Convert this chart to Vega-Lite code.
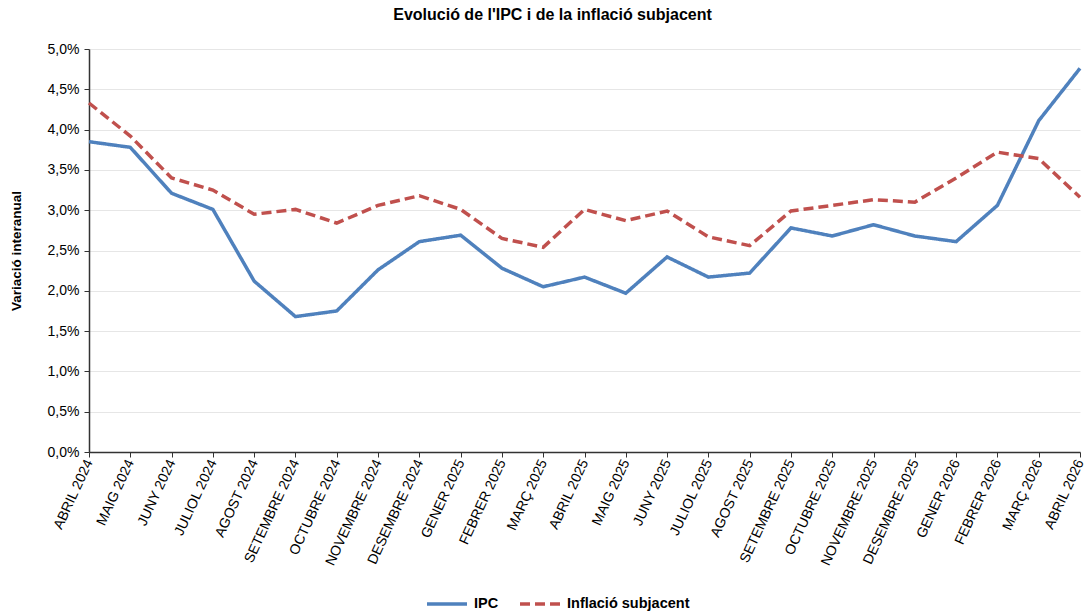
{
  "$schema": "https://vega.github.io/schema/vega-lite/v6.json",
  "autosize": "none",
  "width": 991,
  "height": 403,
  "padding": {"left": 89, "top": 49, "right": 4, "bottom": 160},
  "background": "white",
  "title": {"text": "Evolució de l'IPC i de la inflació subjacent", "font": "Liberation Sans", "fontSize": 16, "fontWeight": "bold", "color": "#000000", "anchor": "middle", "dx": -32, "offset": 19},
  "data": {"values": [
    {"mes": "ABRIL 2024", "serie": "IPC", "valor": 3.85},
    {"mes": "MAIG 2024", "serie": "IPC", "valor": 3.78},
    {"mes": "JUNY 2024", "serie": "IPC", "valor": 3.21},
    {"mes": "JULIOL 2024", "serie": "IPC", "valor": 3.01},
    {"mes": "AGOST 2024", "serie": "IPC", "valor": 2.12},
    {"mes": "SETEMBRE 2024", "serie": "IPC", "valor": 1.68},
    {"mes": "OCTUBRE 2024", "serie": "IPC", "valor": 1.75},
    {"mes": "NOVEMBRE 2024", "serie": "IPC", "valor": 2.26},
    {"mes": "DESEMBRE 2024", "serie": "IPC", "valor": 2.61},
    {"mes": "GENER 2025", "serie": "IPC", "valor": 2.69},
    {"mes": "FEBRER 2025", "serie": "IPC", "valor": 2.28},
    {"mes": "MARÇ 2025", "serie": "IPC", "valor": 2.05},
    {"mes": "ABRIL 2025", "serie": "IPC", "valor": 2.17},
    {"mes": "MAIG 2025", "serie": "IPC", "valor": 1.97},
    {"mes": "JUNY 2025", "serie": "IPC", "valor": 2.42},
    {"mes": "JULIOL 2025", "serie": "IPC", "valor": 2.17},
    {"mes": "AGOST 2025", "serie": "IPC", "valor": 2.22},
    {"mes": "SETEMBRE 2025", "serie": "IPC", "valor": 2.78},
    {"mes": "OCTUBRE 2025", "serie": "IPC", "valor": 2.68},
    {"mes": "NOVEMBRE 2025", "serie": "IPC", "valor": 2.82},
    {"mes": "DESEMBRE 2025", "serie": "IPC", "valor": 2.68},
    {"mes": "GENER 2026", "serie": "IPC", "valor": 2.61},
    {"mes": "FEBRER 2026", "serie": "IPC", "valor": 3.06},
    {"mes": "MARÇ 2026", "serie": "IPC", "valor": 4.11},
    {"mes": "ABRIL 2026", "serie": "IPC", "valor": 4.76},
    {"mes": "ABRIL 2024", "serie": "Inflació subjacent", "valor": 4.33},
    {"mes": "MAIG 2024", "serie": "Inflació subjacent", "valor": 3.92},
    {"mes": "JUNY 2024", "serie": "Inflació subjacent", "valor": 3.40},
    {"mes": "JULIOL 2024", "serie": "Inflació subjacent", "valor": 3.25},
    {"mes": "AGOST 2024", "serie": "Inflació subjacent", "valor": 2.95},
    {"mes": "SETEMBRE 2024", "serie": "Inflació subjacent", "valor": 3.01},
    {"mes": "OCTUBRE 2024", "serie": "Inflació subjacent", "valor": 2.84},
    {"mes": "NOVEMBRE 2024", "serie": "Inflació subjacent", "valor": 3.06},
    {"mes": "DESEMBRE 2024", "serie": "Inflació subjacent", "valor": 3.18},
    {"mes": "GENER 2025", "serie": "Inflació subjacent", "valor": 3.01},
    {"mes": "FEBRER 2025", "serie": "Inflació subjacent", "valor": 2.65},
    {"mes": "MARÇ 2025", "serie": "Inflació subjacent", "valor": 2.54},
    {"mes": "ABRIL 2025", "serie": "Inflació subjacent", "valor": 3.01},
    {"mes": "MAIG 2025", "serie": "Inflació subjacent", "valor": 2.87},
    {"mes": "JUNY 2025", "serie": "Inflació subjacent", "valor": 2.99},
    {"mes": "JULIOL 2025", "serie": "Inflació subjacent", "valor": 2.67},
    {"mes": "AGOST 2025", "serie": "Inflació subjacent", "valor": 2.56},
    {"mes": "SETEMBRE 2025", "serie": "Inflació subjacent", "valor": 2.99},
    {"mes": "OCTUBRE 2025", "serie": "Inflació subjacent", "valor": 3.06},
    {"mes": "NOVEMBRE 2025", "serie": "Inflació subjacent", "valor": 3.13},
    {"mes": "DESEMBRE 2025", "serie": "Inflació subjacent", "valor": 3.10},
    {"mes": "GENER 2026", "serie": "Inflació subjacent", "valor": 3.40},
    {"mes": "FEBRER 2026", "serie": "Inflació subjacent", "valor": 3.72},
    {"mes": "MARÇ 2026", "serie": "Inflació subjacent", "valor": 3.64},
    {"mes": "ABRIL 2026", "serie": "Inflació subjacent", "valor": 3.16}
  ]},
  "mark": {"type": "line", "strokeWidth": 3.5, "clip": false},
  "encoding": {
    "x": {"field": "mes", "type": "ordinal", "sort": null, "scale": {"type": "point", "padding": 0},
      "axis": {"title": null, "labelAngle": -65, "labelFont": "Liberation Sans", "labelFontSize": 14, "labelColor": "#000000", "domainColor": "#333333", "domainWidth": 1.5, "tickColor": "#333333", "tickSize": 5, "grid": false, "labelPadding": 3, "labelOverlap": false, "labelBound": false}},
    "y": {"field": "valor", "type": "quantitative", "scale": {"domain": [0, 5], "nice": false},
      "axis": {"title": "Variació interanual", "titleFont": "Liberation Sans", "titleFontSize": 13.5, "titleFontWeight": "bold", "titleColor": "#000000", "titlePadding": 24,
        "values": [0, 0.5, 1, 1.5, 2, 2.5, 3, 3.5, 4, 4.5, 5],
        "labelExpr": "replace(format(datum.value, '.1f'), '.', ',') + '%'",
        "labelFont": "Liberation Sans", "labelFontSize": 14, "labelColor": "#000000", "labelPadding": 5,
        "domainColor": "#333333", "domainWidth": 1.5, "tickColor": "#333333", "tickSize": 5,
        "grid": true, "gridColor": "#e6e6e6", "gridWidth": 1}},
    "color": {"field": "serie", "type": "nominal", "sort": ["IPC", "Inflació subjacent"],
      "scale": {"domain": ["IPC", "Inflació subjacent"], "range": ["#4F81BD", "#C0504D"]},
      "legend": {"title": null, "orient": "none", "legendX": 336, "legendY": 533, "direction": "horizontal", "symbolType": "stroke", "symbolSize": 1600, "symbolStrokeWidth": 3.5, "labelFont": "Liberation Sans", "labelFontSize": 14.5, "labelFontWeight": "bold", "labelColor": "#000000", "columnPadding": 14, "labelOffset": 5}},
    "strokeDash": {"field": "serie", "type": "nominal",
      "scale": {"domain": ["IPC", "Inflació subjacent"], "range": [[1, 0], [10, 5]]},
      "legend": null}
  },
  "config": {"view": {"stroke": null}}
}
